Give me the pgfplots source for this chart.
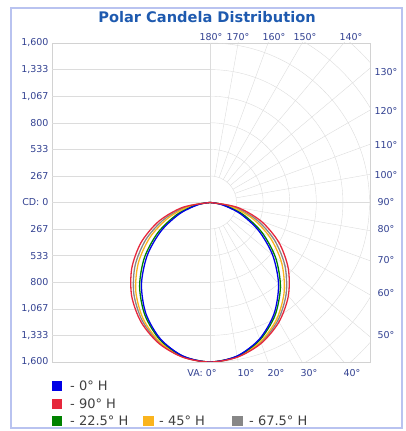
\documentclass[border=0pt]{standalone}
\usepackage{fontspec}
\setmainfont{DejaVu Sans}
\usepackage{pgfplots}
\pgfplotsset{compat=1.18}
\definecolor{titleblue}{RGB}{30,90,175}
\definecolor{lblue}{RGB}{50,65,145}
\definecolor{gridc}{RGB}{220,220,220}
\definecolor{framec}{RGB}{185,195,240}
\definecolor{cblue}{RGB}{0,0,230}
\definecolor{cred}{RGB}{230,40,60}
\definecolor{cgreen}{RGB}{0,130,0}
\definecolor{corange}{RGB}{250,180,30}
\definecolor{cgray}{RGB}{135,135,135}
\begin{document}
\begin{tikzpicture}[x=1pt,y=1pt]
\path[use as bounding box] (0,0) rectangle (406,431);
\draw[framec, line width=1.2pt] (11,3) rectangle (402,423);
\node[font=\bfseries\fontsize{14.6}{16}\selectfont, text=titleblue] at (207,414) {Polar Candela Distribution};
\begin{axis}[at={(52pt,69pt)}, anchor=south west, scale only axis,
  width=318pt, height=319pt,
  xmin=-1590, xmax=1610, ymin=-1600, ymax=1600,
  axis line style={draw=gray!35},
  xtick=\empty,
  ytick={-1600,-1333.33,-1066.67,-800,-533.33,-266.67,0,266.67,533.33,800,1066.67,1333.33,1600},
  yticklabels={{1,600},{1,333},{1,067},800,533,267,{CD: 0},267,533,800,{1,067},{1,333},{1,600}},
  major tick length=0pt,
  yticklabel style={font=\fontsize{9.5}{11}\selectfont, text=lblue},
  clip=true]
\pgfplotsinvokeforeach{-1333.33,-1066.67,-800,-533.33,-266.67,0,266.67,533.33,800,1066.67,1333.33}{
  \draw[gridc] (axis cs:-1590,#1) -- (axis cs:0,#1);}
\draw[gridc] (axis cs:0,-1600) -- (axis cs:0,1600);
\begin{scope}
\clip (axis cs:0,-1600) rectangle (axis cs:1610,1600);
\pgfplotsinvokeforeach{1,2,3,4,5,6,7,8}{
  \draw[gridc] (axis cs:0,0) circle[radius=#1*26.58pt];}
\end{scope}
\pgfplotsinvokeforeach{-80,-70,-60,-50,-40,-30,-20,-10,0,10,20,30,40,50,60,70,80}{
  \draw[gridc] (axis cs:0,0) ++(#1:26.58pt) -- ++(#1:420pt);}
% 67.5 H
\addplot[cgray, line width=1.3pt, smooth, data cs=polar] coordinates {
(-180,0) (-170,233) (-160,492) (-150,746) (-140,984) (-130,1193) (-120,1366) (-110,1494) (-100,1573) (-90,1600)
(-80,1573) (-70,1494) (-60,1366) (-50,1193) (-40,984) (-30,746) (-20,492) (-10,233) (0,0)};
% 45 H
\addplot[corange, line width=1.3pt, smooth, data cs=polar] coordinates {
(-180,0) (-170,196) (-160,442) (-150,696) (-140,941) (-130,1162) (-120,1346) (-110,1485) (-100,1571) (-90,1600)
(-80,1571) (-70,1485) (-60,1346) (-50,1162) (-40,941) (-30,696) (-20,442) (-10,196) (0,0)};
% 22.5 H
\addplot[cgreen, line width=1.3pt, smooth, data cs=polar] coordinates {
(-180,0) (-170,138) (-160,356) (-150,606) (-140,862) (-130,1102) (-120,1308) (-110,1467) (-100,1566) (-90,1600)
(-80,1566) (-70,1467) (-60,1308) (-50,1102) (-40,862) (-30,606) (-20,356) (-10,138) (0,0)};
% 0 H
\addplot[cblue, line width=1.3pt, smooth, data cs=polar] coordinates {
(-180,0) (-170,116) (-160,320) (-150,566) (-140,824) (-130,1073) (-120,1289) (-110,1457) (-100,1564) (-90,1600)
(-80,1564) (-70,1457) (-60,1289) (-50,1073) (-40,824) (-30,566) (-20,320) (-10,116) (0,0)};
% 90 H
\addplot[cred, line width=1.3pt, smooth, data cs=polar] coordinates {
(-180,0) (-170,278) (-160,547) (-150,800) (-140,1028) (-130,1226) (-120,1386) (-110,1504) (-100,1576) (-90,1600)
(-80,1576) (-70,1504) (-60,1386) (-50,1226) (-40,1028) (-30,800) (-20,547) (-10,278) (0,0)};
\end{axis}
% angle labels
\begin{scope}[every node/.style={font=\fontsize{9.5}{11}\selectfont, text=lblue, inner sep=0pt}]
\node at (211,394) {180°};
\node at (238,394) {170°};
\node at (274,394) {160°};
\node at (305,394) {150°};
\node at (351,394) {140°};
\node at (386,359) {130°};
\node at (386,320) {120°};
\node at (386,286) {110°};
\node at (386,256) {100°};
\node at (386,229) {90°};
\node at (386,202) {80°};
\node at (386,171) {70°};
\node at (386,138) {60°};
\node at (386,96) {50°};
\node at (202,58) {VA: 0°};
\node at (246,58) {10°};
\node at (276,58) {20°};
\node at (309,58) {30°};
\node at (352,58) {40°};
\end{scope}
% legend
\begin{scope}[every node/.style={font=\fontsize{13}{15}\selectfont, text=black!75, anchor=west, inner sep=0pt}]
\fill[cblue] (52,40) rectangle (62,50); \node at (70,45) {- 0° H};
\fill[cred] (52,22) rectangle (62,32); \node at (70,27) {- 90° H};
\fill[cgreen] (52,5) rectangle (62,15); \node at (70,10) {- 22.5° H};
\fill[corange] (143,5) rectangle (154,15); \node at (159,10) {- 45° H};
\fill[cgray] (232,5) rectangle (243,15); \node at (249,10) {- 67.5° H};
\end{scope}
\end{tikzpicture}
\end{document}
